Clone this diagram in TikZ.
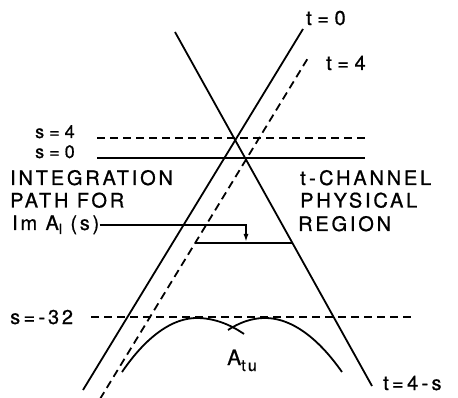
\documentclass[tikz,border=0pt]{standalone}
\usepackage{fontspec}
\setmainfont{TeX Gyre Heros}
\newfontfamily\lett[LetterSpace=14,FakeBold=0.8]{TeX Gyre Heros}
\usetikzlibrary{arrows.meta}
\begin{document}
\begin{tikzpicture}[x=1pt,y=-1pt,
  ln/.style={line width=1.8pt},
  dsh/.style={line width=1.8pt, dash pattern=on 8pt off 5pt},
  lab/.style={font=\lett\fontsize{20}{22}\selectfont, inner sep=0pt, anchor=base west},
  slab/.style={font=\lett\fontsize{18}{20}\selectfont, inner sep=0pt, anchor=base west}]
\useasboundingbox[fill=white] (0,0) rectangle (458,398);
% main lines
\coordinate (t0a) at (83,390);  \coordinate (t0b) at (303,29);
\coordinate (ua)  at (175,32);  \coordinate (ub)  at (372,386);
\coordinate (t4a) at (100,399); \coordinate (t4b) at (308,58);
\draw[ln] (t0a) -- (t0b);
\draw[ln] (ua) -- (ub);
\draw[dsh] (t4a) -- (t4b);
% horizontal lines
\coordinate (s4a) at (97,138);   \coordinate (s4b) at (365,138);
\coordinate (s0a) at (97,158); \coordinate (s0b) at (365,158);
\coordinate (s32a) at (91,317);  \coordinate (s32b) at (415,317);
\draw[dsh] (s4a) -- (s4b);
\draw[ln] (s0a) -- (s0b);
\draw[dsh] (s32a) -- (s32b);
% labels
\node[lab] (lt0) at (306,25) {t\;=\;0};
\node[lab] (lt4) at (326,70) {t\;=\;4};
\node[slab] (ls4) at (35,138) {s\;=\;4};
\node[slab] (ls0) at (35,158) {s\;=\;0};
\node[lab] (ls32) at (10,324) {s\,=\,-32};
\node[lab] (lu) at (383,390) {t\,=\,4\,-\,s};
\node[lab] (int1) at (10,185) {INTEGRATION};
\node[lab] (int2) at (10,207.5) {PATH FOR};
\node[lab] (im) at (12,230) {Im A\raisebox{-4pt}{\fontsize{14}{14}\selectfont l} (s)};
\node[lab] (ch1) at (300,185) {t\,-\,CHANNEL};
\node[lab] (ch2) at (300,207.5) {PHYSICAL};
\node[lab] (ch3) at (298,231) {REGION};
\node[lab, font=\lett\fontsize{21}{21}\selectfont] (atu) at (227,365) {A\raisebox{-6pt}{\fontsize{16}{16}\selectfont tu}};
% integration path
\coordinate (tip) at (246,242);
\coordinate (pl) at (195,243);
\coordinate (pr) at (293,243);
\draw[ln] (pl) -- (pr);
\draw[ln,-{Latex[length=8pt,width=5pt]}] (im.east) -| (tip);
% arcs
\draw[ln] (122,372) parabola bend (197,318) (244,334);
\draw[ln] (228,330) parabola bend (265,318) (342,372);
\end{tikzpicture}
\end{document}
